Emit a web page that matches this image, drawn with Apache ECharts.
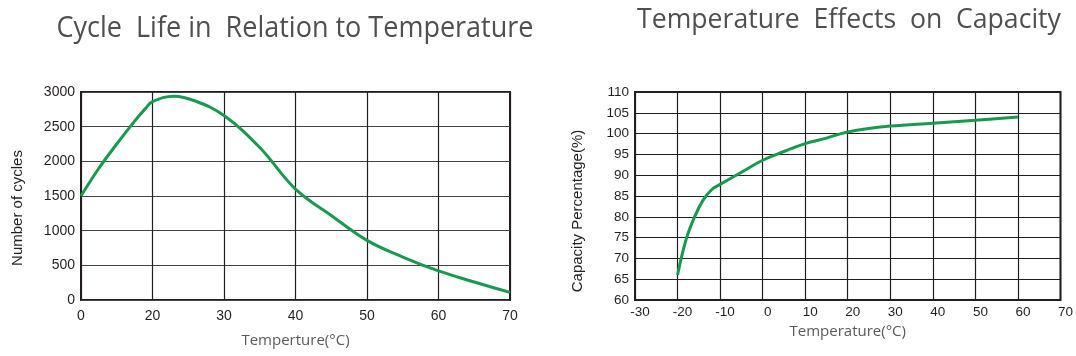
<!DOCTYPE html>
<html>
<head>
<meta charset="utf-8">
<script src="https://cdn.jsdelivr.net/npm/echarts@6/dist/echarts.min.js"></script>
<style>html,body{margin:0;padding:0;background:#fff;}#c{width:1076px;height:356px;}</style>
</head>
<body>
<div id="c"></div>
<script>
// Left chart: Cycle life vs temperature
var cycleTickLabels = ['0', '20', '30', '40', '50', '60', '70'];
var cycleTemps = [0, 5, 10, 15, 18, 20, 23, 26, 30, 35, 40, 45, 50, 55, 60, 65, 70];
var cycleValues = [1500, 1900, 2250, 2580, 2760, 2860, 2940, 2870, 2660, 2200, 1600, 1220, 860, 620, 420, 260, 110];

// Right chart: capacity vs temperature
var capTemps = [-20, -18, -16, -14, -12, -10, -5, 0, 5, 10, 15, 20, 30, 40, 50, 60];
var capValues = [66, 74.5, 80, 84, 86.5, 87.8, 90.7, 93.6, 95.7, 97.6, 98.9, 100.4, 101.8, 102.5, 103.2, 104];

// left axis is piecewise: first segment 0-20, then 10 per segment
function cyclePos(t) { return t <= 20 ? t / 20 : (t - 10) / 10; }

var chart = echarts.init(document.getElementById('c'), null, {renderer: 'canvas'});
function lbl(size) { return {color: '#231f20', fontFamily: 'Liberation Sans, Arial', fontSize: size}; }
var frame = {show: true, borderColor: '#231f20', borderWidth: 2, backgroundColor: 'transparent'};
var plain = function (v) { return String(v); };

chart.setOption({
  animation: false,
  graphic: [
    {type: 'text', x: 295, y: 28, scaleX: 0.9,
     style: {text: 'Cycle  Life in  Relation to Temperature', font: '30px "Open Sans"', fill: '#4f4f4f', textAlign: 'center', textVerticalAlign: 'middle'}},
    {type: 'text', x: 849, y: 20, scaleX: 0.95,
     style: {text: 'Temperature  Effects  on  Capacity', font: '28px "Open Sans"', fill: '#4f4f4f', textAlign: 'center', textVerticalAlign: 'middle'}}
  ],
  grid: [
    Object.assign({left: 81, top: 92, width: 429, height: 208}, frame),
    Object.assign({left: 635, top: 92, width: 426, height: 208}, frame)
  ],
  xAxis: [
    {gridIndex: 0, type: 'value', min: 0, max: 6, interval: 1,
     axisLine: {show: false}, axisTick: {show: false},
     axisLabel: Object.assign({margin: 9, formatter: function (v) { return cycleTickLabels[Math.round(v)]; }}, lbl(14)),
     splitLine: {show: true, lineStyle: {color: '#231f20', width: 1.2}},
     name: 'Temperture(°C)', nameLocation: 'middle', nameGap: 33,
     nameTextStyle: {color: '#5a5a5a', fontFamily: 'Open Sans', fontSize: 15}},
    {gridIndex: 1, type: 'value', min: -30, max: 70, interval: 10,
     axisLine: {show: false}, axisTick: {show: false},
     axisLabel: Object.assign({margin: 5, padding: [0, 0, 0, 10], formatter: plain}, lbl(13.5)),
     splitLine: {show: true, lineStyle: {color: '#231f20', width: 1.2}},
     name: 'Temperature(°C)', nameLocation: 'middle', nameGap: 24,
     nameTextStyle: {color: '#5a5a5a', fontFamily: 'Open Sans', fontSize: 15}}
  ],
  yAxis: [
    {gridIndex: 0, type: 'value', min: 0, max: 3000, interval: 500,
     axisLine: {show: false}, axisTick: {show: false},
     axisLabel: Object.assign({margin: 6, formatter: plain}, lbl(14)),
     splitLine: {show: true, lineStyle: {color: '#444', width: 1.2}},
     name: 'Number of cycles', nameLocation: 'middle', nameGap: 56, nameRotate: 90,
     nameTextStyle: {color: '#231f20', fontFamily: 'Liberation Sans, Arial', fontSize: 15, padding: [0, 24, 0, 0]}},
    {gridIndex: 1, type: 'value', min: 60, max: 110, interval: 5,
     axisLine: {show: false}, axisTick: {show: false},
     axisLabel: Object.assign({margin: 6, formatter: plain}, lbl(13.5)),
     splitLine: {show: true, lineStyle: {color: '#231f20', width: 1.2}},
     name: 'Capacity Percentage(%)', nameLocation: 'middle', nameGap: 50, nameRotate: 90,
     nameTextStyle: {color: '#231f20', fontFamily: 'Liberation Sans, Arial', fontSize: 15, padding: [0, 30, 0, 0]}}
  ],
  series: [
    {type: 'line', xAxisIndex: 0, yAxisIndex: 0, smooth: 0.4, showSymbol: false,
     lineStyle: {color: '#17994f', width: 3}, itemStyle: {color: '#17994f'},
     data: cycleTemps.map(function (t, i) { return [cyclePos(t), cycleValues[i]]; })},
    {type: 'line', xAxisIndex: 1, yAxisIndex: 1, smooth: 0.4, showSymbol: false,
     lineStyle: {color: '#17994f', width: 3}, itemStyle: {color: '#17994f'},
     data: capTemps.map(function (t, i) { return [t, capValues[i]]; })}
  ]
});
</script>
</body>
</html>
